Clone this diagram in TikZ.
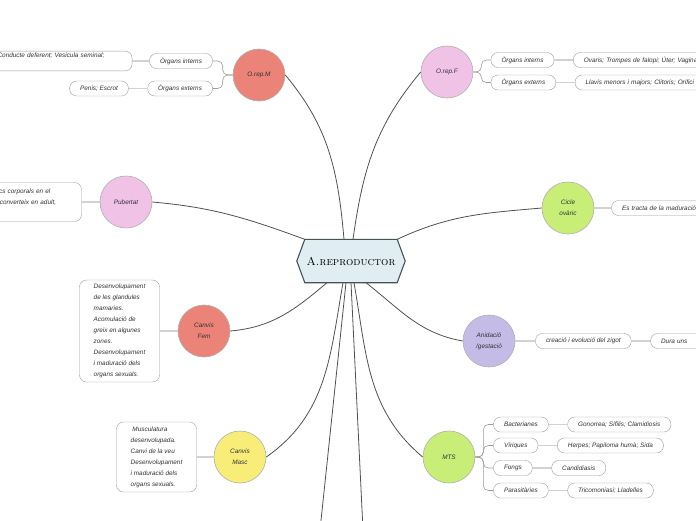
\documentclass[tikz,border=0pt]{standalone}
\usepackage{fontspec}
\setsansfont{Liberation Sans}
\usetikzlibrary{positioning,calc,backgrounds}
\definecolor{ink}{RGB}{50,50,50}
\definecolor{rim}{RGB}{155,155,155}
\definecolor{wire}{RGB}{80,80,80}
\definecolor{hubfill}{RGB}{224,238,244}
\definecolor{hubline}{RGB}{70,82,88}
\definecolor{salmon}{RGB}{236,131,120}
\definecolor{blush}{RGB}{240,194,230}
\definecolor{lime}{RGB}{200,238,120}
\definecolor{sun}{RGB}{249,237,122}
\definecolor{lilac}{RGB}{196,187,231}
\newcommand{\hand}{\sffamily\itshape\fontsize{6.4}{11}\selectfont}
\tikzset{
  topic/.style={circle,draw=rim!80,line width=0.6pt,minimum size=52pt,inner sep=0pt,
    font=\hand,align=center,text=ink},
  leaf/.style={draw=rim,rounded corners=7pt,fill=white,inner xsep=10.5pt,inner ysep=2pt,
    minimum height=15pt,font=\hand,align=left,text=ink},
  hubbox/.style={minimum width=108pt,minimum height=43pt,inner sep=0pt,
    font=\fontsize{11.5}{13}\selectfont,text=black},
  branch/.style={draw=wire,line width=0.8pt},
  twig/.style={draw=rim,line width=0.6pt,rounded corners=5pt},
  link/.style={draw=gray!35,line width=1.5pt},
}

\begin{document}
\begin{tikzpicture}[x=1pt,y=1pt,node distance=18pt]
  \useasboundingbox (0,0) rectangle (696,-520);
  % centre
  \node[hubbox] (hub) at (351,-261) {\textsc{A.reproductor}};
  \begin{scope}[on background layer]
    \draw[hubline,fill=hubfill,line width=1.1pt] (hub.west) -- ([xshift=8pt]hub.north west)
      -- ([xshift=-8pt]hub.north east) -- (hub.east) -- ([xshift=-8pt]hub.south east)
      -- ([xshift=8pt]hub.south west) -- cycle;
  \end{scope}

  % main topics
  \node[topic,fill=salmon] (omasc) at (259,-75) {O.rep.M};
  \node[topic,fill=blush] (ofem) at (447,-72) {O.rep.F};
  \node[topic,fill=blush] (pub) at (126,-202) {Pubertat};
  \node[topic,fill=lime] (cicle) at (568,-208) {Cicle\\ovàric};
  \node[topic,fill=salmon] (cfem) at (204,-331) {Canvis\\Fem};
  \node[topic,fill=lilac] (anid) at (489,-341) {Anidació\\/gestació};
  \node[topic,fill=sun] (cmasc) at (240,-457) {Canvis\\Masc};
  \node[topic,fill=lime] (mts) at (449,-457) {MTS};
  \coordinate (offA) at (320,-530);
  \coordinate (offB) at (363,-530);

  % O.rep.M
  \node[leaf,left=20pt of omasc,yshift=14pt] (mint) {Òrgans interns};
  \node[leaf,left=20pt of omasc,yshift=-13.5pt] (mext) {Òrgans externs};
  \node[leaf,left=17pt of mint,text width=124pt] (mintx) {Conducte deferent; Vesicula seminal;\\\mbox{}};
  \node[leaf,left=19pt of mext] (mextx) {Penis; Escrot};
  % O.rep.F
  \node[leaf,right=17.5pt of ofem,yshift=12pt] (fint) {Òrgans interns};
  \node[leaf,right=17.5pt of ofem,yshift=-10.5pt] (fext) {Òrgans externs};
  \node[leaf,right=19pt of fint,text width=150pt] (fintx) {Ovaris; Trompes de falopi; Úter; Vagina};
  \node[leaf,right=19pt of fext,text width=150pt] (fextx) {Llavis menors i majors; Clitoris; Orifici};
  % Pubertat, cicle
  \node[leaf,left=18pt of pub,text width=80pt,minimum height=39pt] (pubx)
    {físics corporals en el\\es converteix en adult,\\\mbox{}};
  \node[leaf,right=17pt of cicle,text width=90pt] (ciclex) {Es tracta de la maduració};
  % canvis
  \node[leaf,left=18pt of cfem,minimum width=80pt,minimum height=102pt] (cfemx)
    {Desenvolupament\\de les glandules\\mamaries.\\Acomulació de\\greix en algunes\\zones.\\Desenvolupament\\i maduració dels\\organs sexuals.};
  \node[leaf,left=17pt of cmasc,minimum width=80pt,minimum height=70pt] (cmascx)
    {\ Musculatura\\desenvolupada.\\Canvi de la veu\\Desenvolupament\\i maduració dels\\organs sexuals.};
  % anidacio
  \node[leaf,right=20pt of anid] (anidx) {creació i evolució del zigot};
  \node[leaf,right=19pt of anidx,text width=40pt] (anidxx) {Dura uns};
  % MTS
  \node[leaf,right=18pt of mts,yshift=32.5pt] (bact) {Bacterianes};
  \node[leaf,right=18pt of mts,yshift=11.5pt] (vir) {Víriques};
  \node[leaf,right=18pt of mts,yshift=-11pt] (fong) {Fongs};
  \node[leaf,right=18pt of mts,yshift=-33.5pt] (paras) {Parasitàries};
  \node[leaf,right=19pt of bact] (bactx) {Gonorrea; Sífilis; Clamidiosis};
  \node[leaf,right=19pt of vir] (virx) {Herpes; Papiloma humà; Sida};
  \node[leaf,right=19pt of fong] (fongx) {Candidiasis};
  \node[leaf,right=19pt of paras] (parasx) {Tricomoniasi; Lladelles};

  % branches from the centre
  \draw[branch] ([xshift=-7pt]hub.north) to[out=95,in=-50] (omasc.east);
  \draw[branch] ([xshift=2pt]hub.north) to[out=82,in=-130] (ofem.west);
  \draw[branch] ([xshift=8pt]hub.north west) to[out=160,in=-5] (pub.east);
  \draw[branch] ([xshift=-8pt]hub.north east) to[out=25,in=185] (cicle.west);
  \draw[branch] ([xshift=-24pt]hub.south) to[out=-140,in=5] (cfem.east);
  \draw[branch] ([xshift=15pt]hub.south) to[out=-38,in=170] (anid.west);
  \draw[branch] ([xshift=-8pt]hub.south) to[out=-100,in=35] (cmasc.east);
  \draw[branch] ([xshift=3pt]hub.south) to[out=-80,in=140] (mts.west);
  \draw[branch] ([xshift=-5pt]hub.south) -- (offA);
  \draw[branch] (hub.south) -- (offB);

  % twigs
  \draw[twig] (omasc.west) -- ++(-10pt,0) |- (mint.east);
  \draw[twig] (omasc.west) -- ++(-10pt,0) |- (mext.east);
  \draw[twig] (ofem.east) -- ++(8pt,0) |- (fint.west);
  \draw[twig] (ofem.east) -- ++(8pt,0) |- (fext.west);
  \foreach \k in {bact,vir,fong,paras}
    \draw[twig] (mts.east) -- ++(8pt,0) |- (\k.west);
  \draw[link] (mint.west) -- (mintx.east);
  \draw[link] (mext.west) -- (mextx.east);
  \draw[link] (fint.east) -- (fintx.west);
  \draw[link] (fext.east) -- (fextx.west);
  \draw[link] (pub.west) -- (pubx.east);
  \draw[link] (cicle.east) -- (ciclex.west);
  \draw[link] (cfem.west) -- (cfemx.east);
  \draw[link] (cmasc.west) -- (cmascx.east);
  \draw[link] (anid.east) -- (anidx.west);
  \draw[link] (anidx.east) -- (anidxx.west);
  \draw[link] (bact.east) -- (bactx.west);
  \draw[link] (vir.east) -- (virx.west);
  \draw[link] (fong.east) -- (fongx.west);
  \draw[link] (paras.east) -- (parasx.west);
\end{tikzpicture}
\end{document}
